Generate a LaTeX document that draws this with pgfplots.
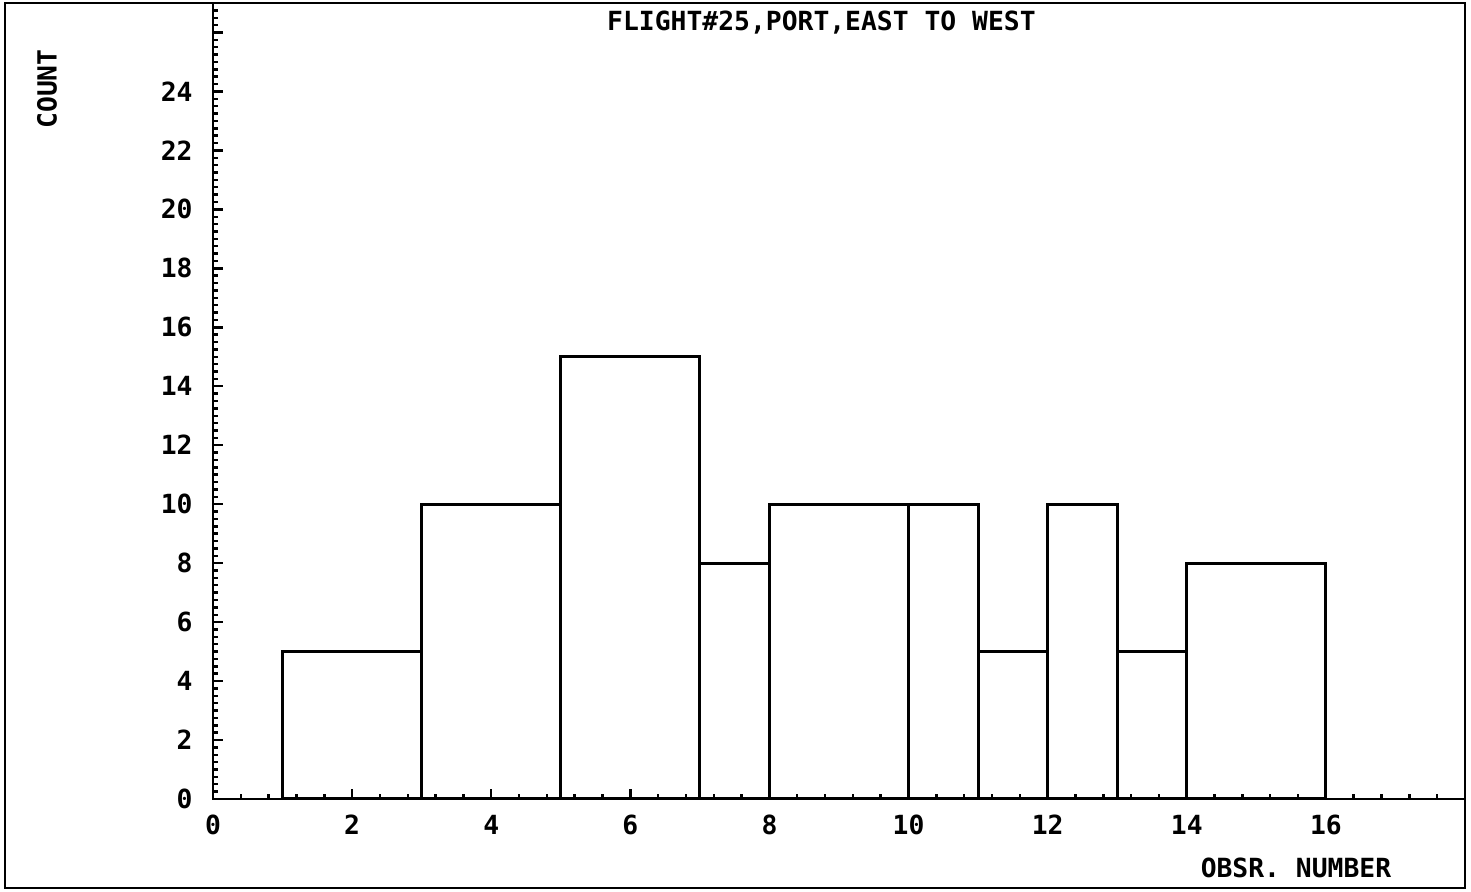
\documentclass[border=0pt]{standalone}
\usepackage{fontspec}
\setmainfont{DejaVu Sans Mono}
\usepackage{pgfplots}
\pgfplotsset{compat=1.18}
\begin{document}
\begin{tikzpicture}
\useasboundingbox (-2.13,-0.93) rectangle (12.58,7.99);
\draw[line width=0.7pt] (-2.08,-0.89) rectangle (12.52,7.96);
\begin{axis}[
    scale only axis,
    width=12.52cm, height=7.96cm,
    xmin=0, xmax=18, ymin=0, ymax=27,
    axis line style={line width=0.8pt},
    xtick={0,2,...,16}, ytick={0,2,...,24},
    extra y ticks={26}, extra y tick labels={},
    minor xtick={0,0.4,...,18}, minor ytick={0,0.25,...,27},
    tick align=inside, tick pos=left,
    major tick length=0.1cm, minor tick length=0.05cm,
    tick style={black, line width=0.7pt},
    font=\fontsize{7.5}{9}\selectfont\bfseries,
    /pgf/number format/assume math mode=true,
    yticklabel style={xshift=-0.08cm},
    xticklabel style={yshift=-0.04cm},
    xlabel={OBSR. NUMBER},
    xlabel style={at={(axis description cs:0.865,-0.087)}, anchor=center},
    ylabel={COUNT},
    ylabel style={at={(axis description cs:-0.1326,0.892)}, anchor=center},
]
% histogram: left edges, last point closes the final interval
\addplot[ybar interval, draw=black, fill=none, line width=0.9pt] coordinates {
    (1,5) (3,10) (5,15) (7,8) (8,10) (10,10) (11,5) (12,10) (13,5) (14,8) (16,8)
};
\node[anchor=center] at (rel axis cs:0.486,0.976) {FLIGHT\#25,PORT,EAST TO WEST};
\end{axis}
\end{tikzpicture}
\end{document}
